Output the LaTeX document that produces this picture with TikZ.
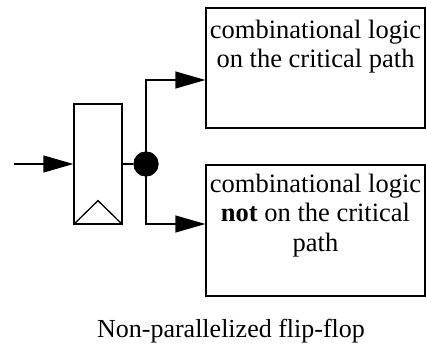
\documentclass[tikz,border=0pt]{standalone}
\usepackage{fontspec}
\setmainfont{Liberation Serif}
\usetikzlibrary{arrows.meta,positioning,calc}

\begin{document}
\begin{tikzpicture}[
    x=1pt, y=-1pt,
    line width=1.3pt,
    flipflop/.style={rectangle, draw, minimum width=48pt, minimum height=120pt, inner sep=0pt},
    split/.style={circle, fill=black, minimum size=25pt, inner sep=0pt},
    logic/.style={rectangle, draw, minimum width=219pt, inner sep=0pt},
    logic text/.style={align=center, inner sep=0pt, font=\fontsize{26.5}{29.5}\selectfont},
    flow/.style={-{Triangle[length=30pt,width=17pt]}},
    caption/.style={font=\fontsize{26}{30}\selectfont}
]
    \useasboundingbox (0,0) rectangle (427,347);

    % Register with its clock input
    \node[flipflop] (ff) at (98,164) {};
    \draw ([xshift=0.1pt]ff.south west) -- ([yshift=24pt]ff.south) -- ([xshift=-0.1pt]ff.south east);
    \coordinate (in) at (14,164);
    \draw[flow] (in) -- (ff.west);

    % Fan-out point
    \node[split] (fork) at (146,164) {};
    \draw (ff.east) -- (fork);

    % The two logic blocks
    \node[logic, minimum height=120pt] (crit) at (315.5,68) {};
    \node[logic text, below=12pt of crit.north] (crit text) {combinational logic\\on the critical path};
    \node[logic, minimum height=131pt] (noncrit) at (315.5,230.5) {};
    \node[logic text, below=9pt of noncrit.north] (noncrit text) {combinational logic\\\textbf{not} on the critical\\path};

    % Branches into the blocks
    \draw[flow] (fork.center) |- ([yshift=-12pt]crit.west);
    \draw[flow] (fork.center) |- ([yshift=6.5pt]noncrit.west);
    \node[split] at (fork) {};

    % Caption
    \node[caption] (title) at (231,331) {Non-parallelized flip-flop};
\end{tikzpicture}
\end{document}
